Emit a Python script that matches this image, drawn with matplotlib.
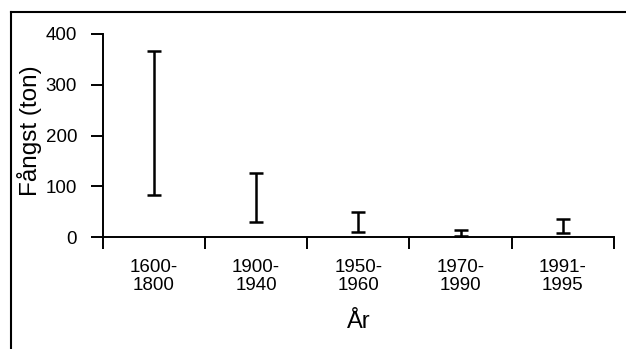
import matplotlib
matplotlib.use("Agg")
import matplotlib.pyplot as plt
from matplotlib.lines import Line2D
import numpy as np

plt.rcParams['font.family'] = ['Liberation Sans', 'DejaVu Sans']

categories = ["1600-\n1800", "1900-\n1940", "1950-\n1960", "1970-\n1990", "1991-\n1995"]
low = [83, 29, 9, 1, 7]
high = [367, 126, 49, 14, 36]
yticks = [0, 100, 200, 300, 400]

fig = plt.figure(figsize=(6.26, 3.49), dpi=100)
ax = fig.add_axes([102.7/626, 1-237/349, (614-102.7)/626, (237-34)/349])

x = np.arange(1, len(categories)+1)
lo = np.array(low); hi = np.array(high)
mid = (lo + hi) / 2
ax.errorbar(x, mid, yerr=[mid - lo, hi - mid], fmt='none', ecolor='black',
            elinewidth=1.8, capsize=5, capthick=1.8)

ax.set_xlim(0.5, len(categories)+0.5)
ax.set_ylim(0, 400)
ax.set_yticks(yticks)
ax.set_yticklabels([str(v) for v in yticks])
ax.set_xticks(np.arange(0.5, len(categories)+1, 1.0))
ax.set_xticklabels([])
ax.set_xticks(x, minor=True)
ax.set_xticklabels(categories, minor=True, linespacing=1.05)

for s in ['top', 'right']:
    ax.spines[s].set_visible(False)
for s in ['left', 'bottom']:
    ax.spines[s].set_linewidth(1.4)

ax.tick_params(axis='y', which='major', direction='out', length=8.5, width=1.4, pad=10, labelsize=13.5)
ax.tick_params(axis='x', which='major', direction='out', length=8.5, width=1.4)
ax.tick_params(axis='x', which='minor', length=0, pad=16, labelsize=13.5)

ax.set_xlabel("År", fontsize=17, labelpad=12)
fig.text(30/626, 1-131/349, "Fångst (ton)", rotation=90, ha='center', va='center', fontsize=17.5)

# scanned frame borders
fig.add_artist(Line2D([11/626, 11/626], [0, 1-12/349], transform=fig.transFigure, color='black', lw=1.5))
fig.add_artist(Line2D([11/626, 1], [1-12/349, 1-12/349], transform=fig.transFigure, color='black', lw=1.5))

fig.savefig("out.png", dpi=100)
